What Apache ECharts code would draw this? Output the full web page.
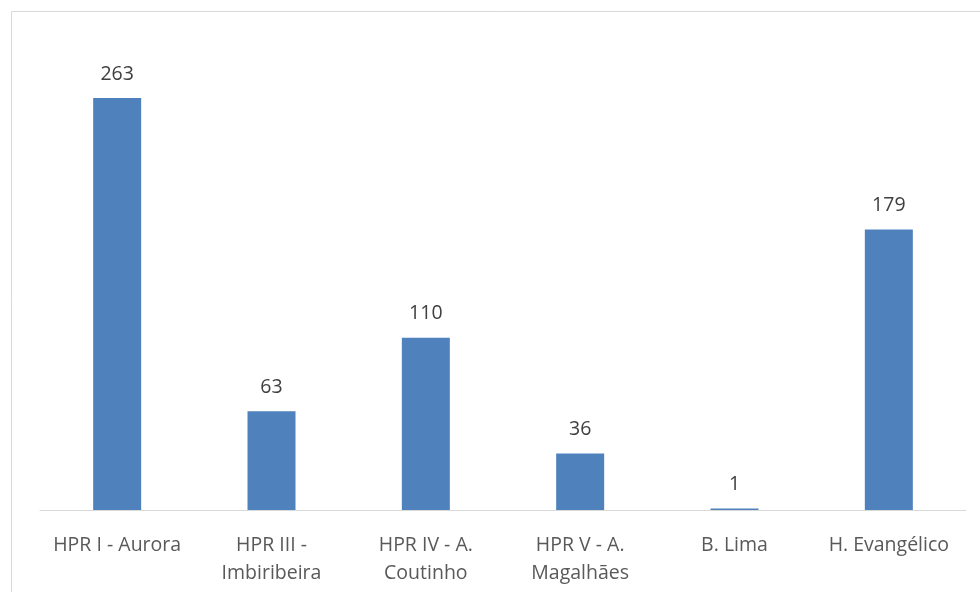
<!DOCTYPE html>
<html><head><meta charset="utf-8">
<script src="https://cdn.jsdelivr.net/npm/echarts@6/dist/echarts.min.js"></script>
<style>html,body{margin:0;padding:0;background:#fff}#c{width:980px;height:592px}</style>
</head><body><div id="c"></div>
<script>
const categories = ["HPR I - Aurora", "HPR III -\nImbiribeira", "HPR IV - A.\nCoutinho", "HPR V - A.\nMagalhães", "B. Lima", "H. Evangélico"];
const values = [263, 63, 110, 36, 1, 179];
const yMax = 300;

const chart = echarts.init(document.getElementById('c'), null, {renderer: 'canvas'});
const font = '"Open Sans", "Noto Sans", sans-serif';
chart.setOption({
  animation: false,
  graphic: [{
    type: 'rect', shape: {x: 11.5, y: 11.5, width: 1000, height: 1000},
    style: {fill: 'none', stroke: '#d9d9d9', lineWidth: 1}, silent: true
  }],
  grid: {left: 40, right: 14, top: 40, bottom: 82, containLabel: false},
  xAxis: {
    type: 'category', data: categories,
    axisLine: {lineStyle: {color: '#d9d9d9', width: 1}},
    axisTick: {show: false},
    axisLabel: {color: '#595959', fontSize: 19.5, fontFamily: font, margin: 21, lineHeight: 28, interval: 0}
  },
  yAxis: {type: 'value', min: 0, max: yMax, show: false, splitLine: {show: false}},
  series: [{
    type: 'bar', data: values, barWidth: 48,
    itemStyle: {color: '#4f81bd'},
    label: {show: true, position: 'top', distance: 14, color: '#404040', fontSize: 19.5, fontFamily: font}
  }]
});
</script></body></html>
